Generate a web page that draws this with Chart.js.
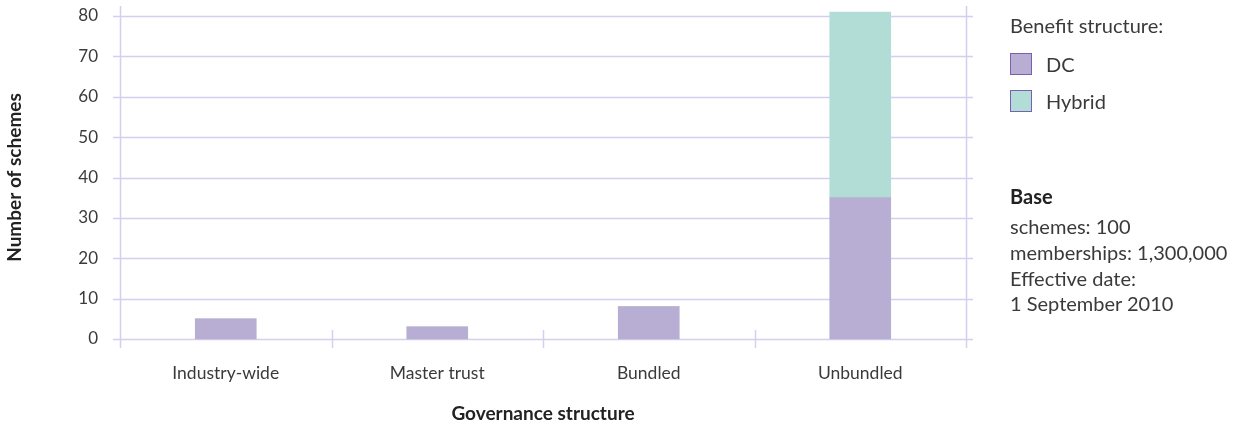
<!DOCTYPE html>
<html>
<head>
<meta charset="utf-8">
<script src="https://cdn.jsdelivr.net/npm/chart.js@4/dist/chart.umd.min.js"></script>
<style>
    body { margin: 0; background: #fff; font-family: Lato, "Open Sans", sans-serif; color: #3a3a3a; }
    #wrap { position: relative; width: 1248px; height: 427px; }
    .note { position: absolute; left: 1010px; font-size: 20px; line-height: 24px; white-space: nowrap; transform: translateY(-50%); }
    .box { position: absolute; left: 1010px; width: 22px; height: 22px; border: 1px solid #7b5fb3; box-sizing: border-box; }
    .bold { font-weight: bold; color: #222; }
</style>
</head>
<body>
<div id="wrap">
    <canvas id="myChart" width="1248" height="427"></canvas>
    <div id="side"></div>
</div>
<script>
const categories = ['Industry-wide', 'Master trust', 'Bundled', 'Unbundled'];
const dcValues = [5, 3, 8, 35];
const hybridValues = [0, 0, 0, 46];
const yTicks = [0, 10, 20, 30, 40, 50, 60, 70, 80];

const seriesNames = ['DC', 'Hybrid'];
const seriesColors = ['#b8aed4', '#b2ddd6'];
const gridColor = '#d4cfee';
const textColor = '#3a3a3a';

// Side panel: legend plus base / date notes (y = line centre)
const side = document.getElementById('side');
let html = '<div class="note" style="top:25px">Benefit structure:</div>';
seriesNames.forEach((name, i) => {
    const cy = 64 + i * 37;
    html += '<div class="box" style="top:' + (cy - 11) + 'px;background:' + seriesColors[i] + '"></div>';
    html += '<div class="note" style="top:' + cy + 'px;left:1046px">' + name + '</div>';
});
const notes = [
    ['Base', 196, true],
    ['schemes: 100', 226, false],
    ['memberships: 1,300,000', 252, false],
    ['Effective date:', 278, false],
    ['1 September 2010', 303, false]
];
notes.forEach(n => {
    html += '<div class="note' + (n[2] ? ' bold' : '') + '" style="top:' + n[1] + 'px">' + n[0] + '</div>';
});
side.innerHTML = html;

// Grid lines, axis frame and category separators
const frameLines = {
    id: 'frameLines',
    beforeDatasetsDraw(chart) {
        const ctx = chart.ctx;
        const area = chart.chartArea;
        const x = chart.scales.x;
        const y = chart.scales.y;
        const zero = y.getPixelForValue(0);
        ctx.save();
        ctx.strokeStyle = gridColor;
        ctx.lineWidth = 1.5;
        yTicks.forEach(v => {
            const py = Math.round(y.getPixelForValue(v)) + 0.5;
            ctx.beginPath();
            ctx.moveTo(area.left - 7, py);
            ctx.lineTo(area.right + 7, py);
            ctx.stroke();
        });
        [area.left, area.right].forEach(px => {
            ctx.beginPath();
            ctx.moveTo(Math.round(px) + 0.5, area.top - 10);
            ctx.lineTo(Math.round(px) + 0.5, zero + 9);
            ctx.stroke();
        });
        for (let i = 1; i < categories.length; i++) {
            const px = (x.getPixelForValue(i - 1) + x.getPixelForValue(i)) / 2;
            ctx.beginPath();
            ctx.moveTo(Math.round(px) + 0.5, zero - 9);
            ctx.lineTo(Math.round(px) + 0.5, zero + 9);
            ctx.stroke();
        }
        ctx.restore();
    }
};

const data = {
    labels: categories,
    datasets: [{
        label: seriesNames[0],
        data: dcValues,
        backgroundColor: seriesColors[0],
        barThickness: 61,
        clip: false
    }, {
        label: seriesNames[1],
        data: hybridValues,
        backgroundColor: seriesColors[1],
        barThickness: 61,
        clip: false
    }]
};

const config = {
    type: 'bar',
    data: data,
    plugins: [frameLines],
    options: {
        responsive: false,
        animation: false,
        layout: {
            padding: { top: 16, right: 282, left: 0, bottom: 2 }
        },
        scales: {
            x: {
                stacked: true,
                // invisible tick marks only push the labels down
                grid: { display: false, drawTicks: true, tickLength: 24 },
                border: { display: false },
                ticks: {
                    color: textColor,
                    font: { family: 'Lato', size: 17.5 },
                    padding: 0
                },
                title: {
                    display: true,
                    text: 'Governance structure',
                    color: '#222',
                    font: { family: 'Lato', size: 19, weight: 'bold' },
                    padding: { top: 0, bottom: 0 }
                },
                afterFit(scale) { scale.height = 86; }
            },
            y: {
                stacked: true,
                min: 0,
                max: 80,
                grid: { display: false, drawTicks: true, tickLength: 22 },
                border: { display: false },
                ticks: {
                    stepSize: 10,
                    color: textColor,
                    font: { family: 'Lato', size: 17 },
                    padding: 0
                },
                title: {
                    display: true,
                    text: 'Number of schemes',
                    color: '#222',
                    font: { family: 'Lato', size: 19, weight: 'bold' },
                    padding: { top: 3, bottom: 0 }
                },
                afterFit(scale) { scale.width = 120; }
            }
        },
        plugins: {
            legend: { display: false },
            tooltip: { enabled: false }
        }
    }
};

const context = document.getElementById('myChart').getContext('2d');
const myChart = new Chart(context, config);
</script>
</body>
</html>
